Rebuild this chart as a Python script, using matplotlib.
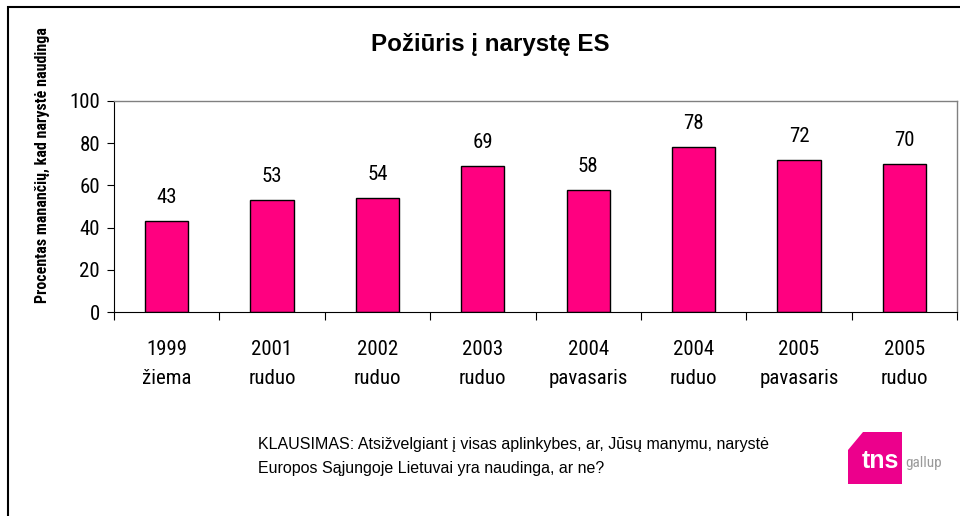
import matplotlib
matplotlib.use("Agg")
import matplotlib.pyplot as plt
from matplotlib.patches import Polygon, Rectangle

years = ["1999", "2001", "2002", "2003", "2004", "2004", "2005", "2005"]
seasons = ["žiema", "ruduo", "ruduo", "ruduo", "pavasaris", "ruduo", "pavasaris", "ruduo"]
values = [43, 53, 54, 69, 58, 78, 72, 70]
yticks = [0, 20, 40, 60, 80, 100]

NARROW = ["Roboto Condensed", "DejaVu Sans"]
WIDE = ["Liberation Sans", "DejaVu Sans"]
plt.rcParams['font.family'] = NARROW

fig = plt.figure(figsize=(9.6, 5.16), dpi=100)
W, H = 960, 516

# outer frame
fig.add_artist(Rectangle((8 / W, -0.05), 1.2, 1 - 7 / H + 0.05, transform=fig.transFigure,
                         fill=False, edgecolor="black", linewidth=1.5))

ax = fig.add_axes([114 / W, 1 - 312 / H, 843 / W, 211 / H])
x = list(range(len(values)))
ax.bar(x, values, width=0.41, color="#FF0080", edgecolor="black", linewidth=1.0)
ax.set_xlim(-0.5, len(values) - 0.5)
ax.set_ylim(0, 100)
ax.set_yticks(yticks)
ax.set_yticklabels([str(t) for t in yticks], fontsize=15)
ax.set_xticks([i - 0.5 for i in range(len(values) + 1)])
ax.set_xticklabels([])
ax.set_xticks(x, minor=True)
ax.set_xticklabels([f"{a}\n{b}" for a, b in zip(years, seasons)], minor=True,
                   fontsize=15, linespacing=1.65)
ax.tick_params(axis="x", which="minor", length=0, pad=20)
ax.tick_params(axis="x", which="major", length=6, direction="out", color="black")
ax.tick_params(axis="y", length=5, direction="out", pad=5)

for s in ["top", "right"]:
    ax.spines[s].set_color("#808080")
    ax.spines[s].set_linewidth(1.0)
ax.spines["left"].set_color("black")
ax.spines["bottom"].set_color("black")

for xi, v in zip(x, values):
    ax.annotate(str(v), (xi, v), xytext=(0, 13), textcoords="offset points",
                ha="center", va="baseline", fontsize=15)

fig.text(490 / W, 1 - 45 / H, "Požiūris į narystę ES", ha="center", va="center",
         fontsize=17.4, fontweight="bold", family=WIDE)
fig.text(42 / W, 1 - 165 / H, "Procentas manančių, kad narystė naudinga", rotation=90,
         ha="center", va="center", fontsize=11.5, fontweight="bold", family=NARROW)

fig.text(258 / W, 1 - 445 / H, "KLAUSIMAS: Atsižvelgiant į visas aplinkybes, ar, Jūsų manymu, narystė",
         ha="left", va="center", fontsize=11.5, family=WIDE)
fig.text(258 / W, 1 - 469 / H, "Europos Sąjungoje Lietuvai yra naudinga, ar ne?",
         ha="left", va="center", fontsize=11.5, family=WIDE)

# logo
pts = [(848, 484), (848, 450), (863, 432), (902, 432), (902, 484)]
fig.add_artist(Polygon([(px / W, 1 - py / H) for px, py in pts], closed=True,
                       transform=fig.transFigure, facecolor="#EC008C", edgecolor="none"))
fig.text(880 / W, 1 - 461 / H, "tns", ha="center", va="center", fontsize=18,
         fontweight="bold", color="white", family=WIDE)
fig.text(905 / W, 1 - 463 / H, "gallup", ha="left", va="center", fontsize=11,
         color="#9a9a9a", family=NARROW)

fig.savefig("out.png", dpi=100)
